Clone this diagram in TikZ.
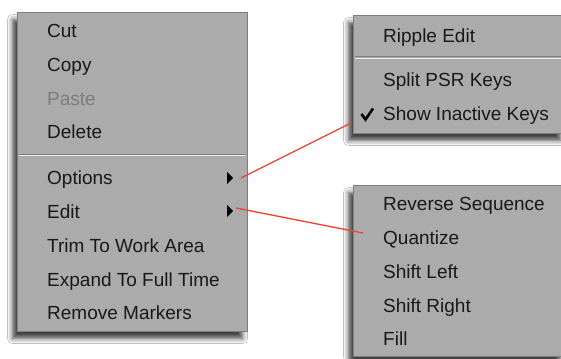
\documentclass[tikz,border=0pt]{standalone}
\usepackage{fontspec}
\setmainfont{Liberation Sans}
\usetikzlibrary{shadows.blur}
\definecolor{menugray}{HTML}{ABABAB}
\definecolor{menuedge}{HTML}{7E7E7E}
\definecolor{disabledtxt}{HTML}{7C7C7C}
\definecolor{linkred}{HTML}{F0402E}
\tikzset{
  menubox/.style={draw=menuedge, line width=1pt, fill=menugray, anchor=north west, inner sep=0pt,
    blur shadow={shadow xshift=-5pt, shadow yshift=-7pt, shadow blur radius=5pt, shadow opacity=75}},
  item/.style={anchor=base west, inner sep=0pt, font=\fontsize{19}{22}\selectfont, text=black!90},
  disabled/.style={item, text=disabledtxt},
  sepline/.style={draw=menuedge, line width=1pt},
  seplight/.style={draw=white!80!menugray, line width=1pt},
  subarrow/.style={fill=black},
  redline/.style={draw=linkred, line width=1.3pt},
}
\begin{document}
\begin{tikzpicture}[x=1pt, y=-1pt]
\clip (0,0) rectangle (561,358);
\fill[white] (0,0) rectangle (561,358);
% main menu
\node[menubox, minimum width=230pt, minimum height=319pt] (mainmenu) at (17,12) {};
\node[item] (cut) at (47,38) {Cut};
\node[item] (copy) at (47,72) {Copy};
\node[disabled] (paste) at (47,105.5) {Paste};
\node[item] (delete) at (47,139) {Delete};
\draw[sepline] (19,154) -- (245,154);
\draw[seplight] (19,155.5) -- (245,155.5);
\node[item] (options) at (47,184) {Options};
\node[item] (edit) at (47,218) {Edit};
\node[item] (trim) at (47,252) {Trim To Work Area};
\node[item] (expand) at (47,286) {Expand To Full Time};
\node[item] (remove) at (47,319.5) {Remove Markers};
\fill[subarrow] (227,172) -- (233,178) -- (227,184) -- cycle;
\fill[subarrow] (227,205) -- (233,211) -- (227,217) -- cycle;
\coordinate (optarrow) at (241,178);
\coordinate (editarrow) at (236,208);
% options submenu
\node[menubox, minimum width=212pt, minimum height=118pt] (optmenu) at (353,15) {};
\node[item] (ripple) at (383,42.5) {Ripple Edit};
\draw[sepline] (355,57) -- (563,57);
\draw[seplight] (355,58.5) -- (563,58.5);
\node[item] (split) at (383,87) {Split PSR Keys};
\node[item] (show) at (383,121) {Show Inactive Keys};
\draw[black, line width=2.6pt, line join=miter] (361.5,114) -- (365.5,119.5) -- (373,108.5);
\coordinate (optend) at (351,123);
% edit submenu
\node[menubox, minimum width=212pt, minimum height=171pt] (editmenu) at (353,185) {};
\node[item] (reverse) at (383,210) {Reverse Sequence};
\node[item] (quantize) at (383,244) {Quantize};
\node[item] (shiftleft) at (383,278) {Shift Left};
\node[item] (shiftright) at (383,312) {Shift Right};
\node[item] (fill) at (383,345.5) {Fill};
\coordinate (editend) at (363,233);
% connectors
\draw[redline] (optarrow) -- (optend);
\draw[redline] (editarrow) -- (editend);
\end{tikzpicture}
\end{document}
